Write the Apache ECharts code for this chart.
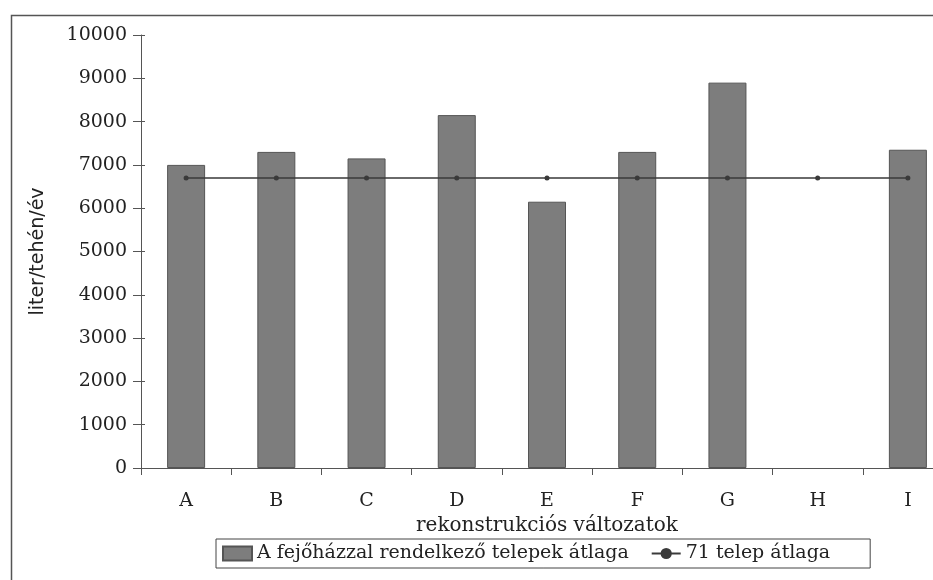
<!DOCTYPE html>
<html>
<head>
<meta charset="utf-8">
<script src="https://cdn.jsdelivr.net/npm/echarts@6/dist/echarts.min.js"></script>
<style>html,body{margin:0;padding:0;background:#fff;overflow:hidden;width:933px;height:580px;}#c{width:960px;height:580px;}</style>
</head>
<body>
<div id="c"></div>
<script>
const categories = ['A', 'B', 'C', 'D', 'E', 'F', 'G', 'H', 'I'];
const barValues = [7000, 7300, 7150, 8150, 6150, 7300, 8900, null, 7350];
const lineValues = [6700, 6700, 6700, 6700, 6700, 6700, 6700, 6700, 6700];
const barName = 'A fejőházzal rendelkező telepek átlaga';
const lineName = '71 telep átlaga';
const yAxisName = 'liter/tehén/év';
const xAxisName = 'rekonstrukciós változatok';

const serif = 'DejaVu Serif';
const txt = '#222';
const chart = echarts.init(document.getElementById('c'));
chart.setOption({
  backgroundColor: '#fff',
  animation: false,
  graphic: [{
    type: 'rect', left: 9, top: 13, shape: { width: 960, height: 600 },
    style: { fill: 'none', stroke: '#555', lineWidth: 1.5 }, silent: true, z: 0
  }],
  grid: { left: 141, top: 35, width: 812, height: 433 },
  legend: {
    left: 216, top: 539,
    borderColor: '#444', borderWidth: 1, padding: [5, 40, 5, 6],
    itemWidth: 29, itemHeight: 14, itemGap: 22,
    textStyle: { fontFamily: serif, fontSize: 19, color: txt },
    data: [
      { name: barName, icon: 'rect' },
      { name: lineName }
    ]
  },
  xAxis: {
    type: 'category', data: categories, boundaryGap: true,
    name: xAxisName, nameLocation: 'middle', nameGap: 29,
    nameTextStyle: { fontFamily: serif, fontSize: 20, color: txt },
    axisLine: { lineStyle: { color: '#555', width: 1 } },
    axisTick: { show: true, length: 7, lineStyle: { color: '#555' } },
    axisLabel: { fontFamily: serif, fontSize: 19, color: txt, margin: 24 },
    splitLine: { show: false }
  },
  yAxis: [{
    type: 'value', min: 0, max: 10000, interval: 1000,
    name: yAxisName, nameLocation: 'middle', nameGap: 93,
    nameTextStyle: { fontFamily: 'DejaVu Sans', fontSize: 19, color: txt },
    axisLine: { show: true, lineStyle: { color: '#555', width: 1 } },
    axisTick: { show: true, length: 8, lineStyle: { color: '#555' } },
    axisLabel: { fontFamily: serif, fontSize: 19, color: txt, margin: 14, formatter: function (v) { return String(v); } },
    splitLine: { show: false }
  }, {
    type: 'value', min: 0, max: 10000, interval: 1000, position: 'left',
    axisLine: { show: false },
    axisTick: { show: true, inside: true, length: 4, lineStyle: { color: '#555' } },
    axisLabel: { show: false },
    splitLine: { show: false }
  }],
  series: [{
    name: barName, type: 'bar', data: barValues, barWidth: 38,
    itemStyle: { color: '#7d7d7d', borderColor: '#555', borderWidth: 1 },
    z: 2
  }, {
    name: lineName, type: 'line', data: lineValues,
    symbol: 'circle', symbolSize: 5,
    lineStyle: { color: '#3a3a3a', width: 1.5 },
    itemStyle: { color: '#3a3a3a' },
    z: 3
  }]
});
</script>
</body>
</html>
